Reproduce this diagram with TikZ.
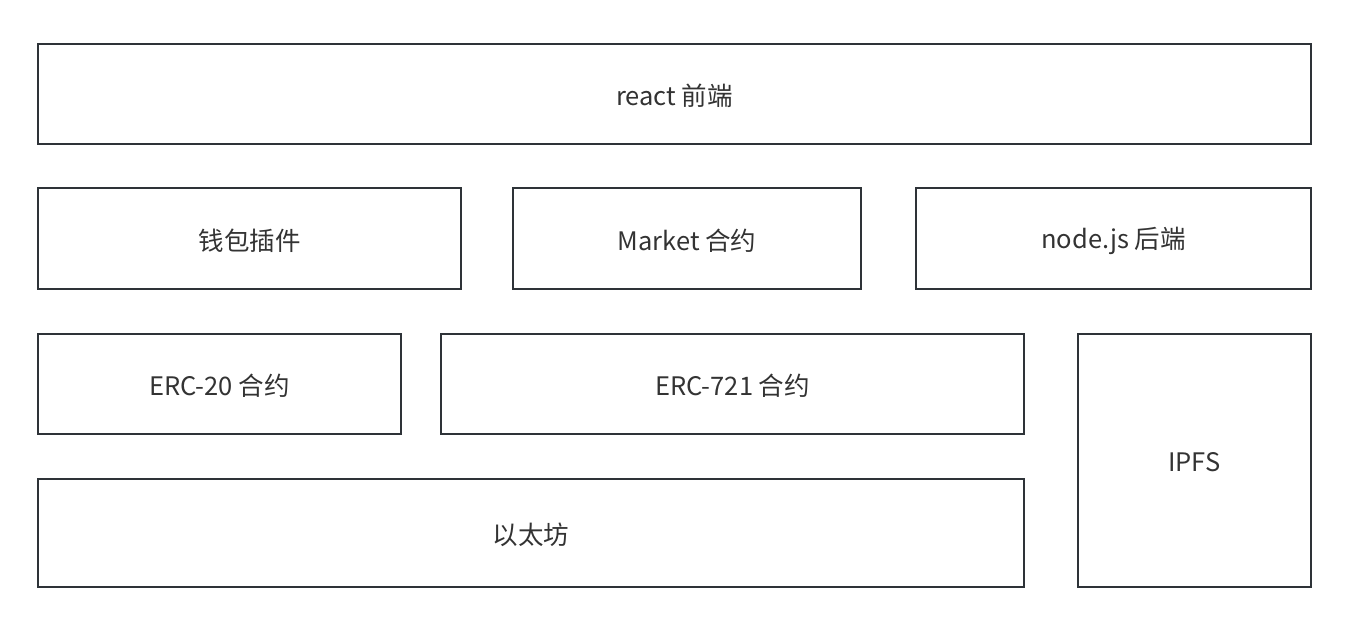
\documentclass[tikz,border=0pt]{standalone}
\usepackage{fontspec}
\setmainfont{Noto Sans CJK SC}
\definecolor{edge}{HTML}{2E3338}
\definecolor{txt}{HTML}{333333}
\begin{document}
\begin{tikzpicture}[x=1pt,y=-1pt,
  layerbox/.style={draw=edge,line width=2.2pt,fill=white},
  layertext/.style={text=txt,font=\fontsize{25.5pt}{30pt}\selectfont,inner sep=0pt}]
\useasboundingbox[fill=white] (0,0) rectangle (1353,629);
\newcommand{\lbox}[6]{%
  \path[layerbox] (#2,#3) rectangle (#4,#5);
  \node[layertext] (#1) at ({(#2+#4)/2},{(#3+#5)/2+2}) {#6};}
\lbox{react}{38}{44}{1311}{144}{react 前端}
\lbox{wallet}{38}{188}{461}{289}{钱包插件}
\lbox{market}{513}{188}{861}{289}{Market 合约}
\lbox{nodejs}{916}{188}{1311}{289}{node.js 后端}
\lbox{erc20}{38}{334}{401}{434}{ERC-20 合约}
\lbox{erc721}{441}{334}{1024}{434}{ERC-721 合约}
\lbox{ipfs}{1078}{334}{1311}{587}{IPFS}
\lbox{eth}{38}{479}{1024}{587}{以太坊}
\end{tikzpicture}
\end{document}
